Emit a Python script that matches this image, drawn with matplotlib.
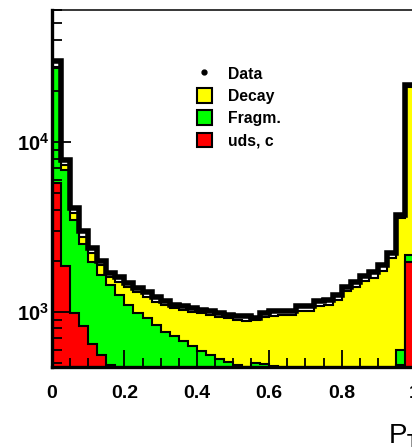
import matplotlib
matplotlib.use("Agg")
import matplotlib.pyplot as plt
import numpy as np
from matplotlib.lines import Line2D
from matplotlib.patches import Patch

plt.rcParams["font.family"] = ["Liberation Sans", "DejaVu Sans"]
plt.rcParams["mathtext.fontset"] = "custom"
plt.rcParams["mathtext.rm"] = "Liberation Sans"
plt.rcParams["mathtext.bf"] = "Liberation Sans:bold"

# binning of the histograms (0 .. 1, 40 bins)
bin_width = 0.025
bin_edges = np.arange(41) * bin_width

# cumulative MC levels (overlaid, as in the original)
udsc = [5740, 1865, 987, 827, 648, 559, 488, 440, 410, 385,
        360, 340, 320, 300, 285, 270, 255, 240, 230, 220,
        210, 200, 190, 180, 170, 160, 155, 150, 145, 140,
        140, 140, 145, 150, 160, 175, 200, 250, 490, 1968]

fragm_udsc = [27200, 6840, 3478, 2512, 1968, 1651, 1442, 1259, 1099, 986,
              922, 839, 763, 722, 675, 631, 590, 559, 529, 508,
              488, 475, 500, 497, 478, 450, 430, 410, 395, 380,
              370, 365, 360, 360, 365, 375, 400, 440, 597, 2165]

decay_total = [27600, 7330, 3818, 2762, 2223, 1890, 1607, 1501, 1403, 1311,
               1225, 1145, 1099, 1056, 1027, 1000, 987, 960, 935, 922,
               897, 885, 897, 935, 947, 960, 960, 1014, 1014, 1085,
               1099, 1176, 1329, 1403, 1521, 1585, 1742, 2079, 3573, 21070]

data = [29950, 7840, 4090, 2993, 2378, 1995, 1707, 1596, 1472, 1375,
        1302, 1217, 1153, 1099, 1077, 1048, 1020, 1007, 980, 960,
        941, 947, 922, 987, 1014, 1014, 1014, 1085, 1085, 1161,
        1176, 1259, 1403, 1501, 1629, 1719, 1890, 2223, 3724, 21630]

legend_labels = ["Data", "Decay", "Fragm.", "uds, c"]
x_ticks = [0, 0.2, 0.4, 0.6, 0.8, 1.0]
x_tick_labels = ["0", "0.2", "0.4", "0.6", "0.8", "1"]
y_ticks = [1e3, 1e4]
y_tick_labels = [r"$\mathbf{10^{3}}$", r"$\mathbf{10^{4}}$"]

YELLOW = "#ffff00"
GREEN = "#00ff00"
RED = "#ff0000"

fig = plt.figure(figsize=(4.12, 4.48), dpi=100)
# axis extends a little past the right edge of the picture (cropped original)
ax = fig.add_axes([52 / 412, 81 / 448, 362 / 412, 357 / 448])

ax.stairs(decay_total, bin_edges, baseline=1, fill=True,
          facecolor=YELLOW, edgecolor="black", linewidth=1.5, zorder=1)
ax.stairs(fragm_udsc, bin_edges, baseline=1, fill=True,
          facecolor=GREEN, edgecolor="black", linewidth=1.5, zorder=1.1)
ax.stairs(udsc, bin_edges, baseline=1, fill=True,
          facecolor=RED, edgecolor="black", linewidth=1.5, zorder=1.2)
ax.stairs(data, bin_edges, baseline=None, color="black",
          linewidth=4.0, zorder=3)

ax.set_yscale("log")
ax.set_xlim(0, 1.0)
ax.set_ylim(474, 60000)

ax.set_xticks(x_ticks)
ax.set_xticklabels(x_tick_labels)
ax.set_xticks(np.arange(21) * 0.05, minor=True)
ax.set_yticks(y_ticks)
ax.set_yticklabels(y_tick_labels)

ax.tick_params(axis="x", which="major", direction="in", length=12,
               width=1.3, pad=13, labelsize=14)
ax.tick_params(axis="x", which="minor", direction="in", length=6.5, width=1.3)
ax.tick_params(axis="y", which="major", direction="in", length=14,
               width=1.3, pad=2, labelsize=14.5)
ax.tick_params(axis="y", which="minor", direction="in", length=7, width=1.3)
for label in ax.get_xticklabels():
    label.set_fontweight("bold")

ax.spines["left"].set_linewidth(2.4)
ax.spines["bottom"].set_linewidth(2.4)
ax.spines["top"].set_linewidth(1.1)
ax.spines["right"].set_visible(False)

handles = [
    Line2D([], [], linestyle="none", marker="o", markersize=3.5, color="black"),
    Patch(facecolor=YELLOW, edgecolor="black", linewidth=1.5),
    Patch(facecolor=GREEN, edgecolor="black", linewidth=1.5),
    Patch(facecolor=RED, edgecolor="black", linewidth=1.5),
]
ax.legend(
    handles, legend_labels,
    loc="upper left",
    bbox_to_anchor=(197 / 412, 1 - 66 / 448),
    bbox_transform=fig.transFigure,
    frameon=False,
    prop={"size": 11.3, "weight": "bold"},
    handlelength=0.95,
    handleheight=1.05,
    handletextpad=1.0,
    labelspacing=0.42,
    borderpad=0,
    borderaxespad=0,
)

fig.text(388 / 412, 1 - 443 / 448, r"P$_{\mathbf{T}}$", fontsize=20,
         ha="left", va="baseline")

fig.savefig("out.png", dpi=100)
